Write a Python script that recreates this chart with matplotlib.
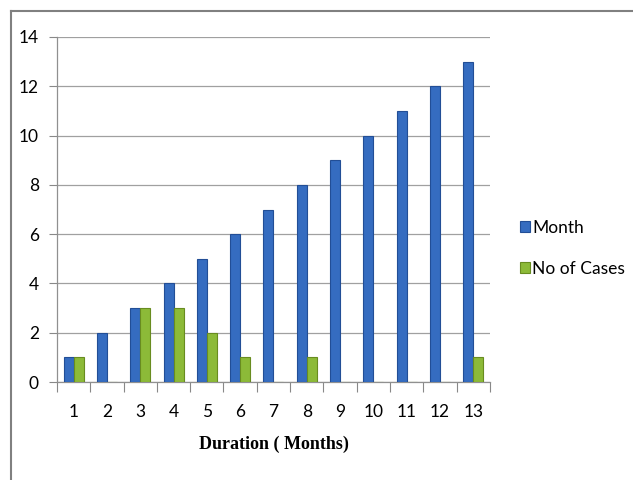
import numpy as np
import matplotlib
matplotlib.use('Agg')
import matplotlib.pyplot as plt
from matplotlib.lines import Line2D

# data
months = [1, 2, 3, 4, 5, 6, 7, 8, 9, 10, 11, 12, 13]
month_vals = [1, 2, 3, 4, 5, 6, 7, 8, 9, 10, 11, 12, 13]
cases_vals = [1, 0, 3, 3, 2, 1, 0, 1, 0, 0, 0, 0, 1]
y_ticks = [0, 2, 4, 6, 8, 10, 12, 14]

fig = plt.figure(figsize=(6.33, 4.8), dpi=100)
ax = fig.add_axes([0.090, 0.204, 0.684, 0.719])

x = np.array(months)
w = 0.3
ax.bar(x - w, month_vals, w, align='edge', color='#356cc0',
       edgecolor='#224e96', linewidth=0.8, label='Month', zorder=3)
ax.bar(x, cases_vals, w, align='edge', color='#8cba38',
       edgecolor='#688c20', linewidth=0.8, label='No of Cases', zorder=3)

ax.set_xlim(0.5, 13.5)
ax.set_ylim(0, 14)
ax.set_yticks(y_ticks)
ax.set_xticks(months)
ax.set_xticks(np.arange(0.5, 14, 1), minor=True)
ax.tick_params(axis='x', which='major', length=0, pad=16)
ax.tick_params(axis='x', which='minor', length=7, color='#888888', width=0.8)
ax.tick_params(axis='y', length=6, color='#888888', width=0.8, pad=7)
for lab in ax.get_xticklabels() + ax.get_yticklabels():
    lab.set_fontfamily('Lato')
    lab.set_fontsize(12.5)

ax.grid(axis='y', color='#a0a0a0', linewidth=0.9, zorder=0)
for s in ['top', 'right']:
    ax.spines[s].set_visible(False)
for s in ['left', 'bottom']:
    ax.spines[s].set_color('#909090')
    ax.spines[s].set_linewidth(0.9)

ax.set_xlabel('Duration ( Months)', fontfamily='Liberation Serif',
              fontweight='bold', fontsize=13, labelpad=11)

leg = fig.legend(loc='center left', bbox_to_anchor=(0.808, 0.483),
                 frameon=False, handlelength=0.55, handleheight=0.55,
                 handletextpad=0.15, labelspacing=1.45, borderpad=0,
                 prop={'family': 'Lato', 'size': 12.5})

# outer chart border (left and top visible)
fig.add_artist(Line2D([0.018, 0.018], [0.0, 0.977], transform=fig.transFigure,
                      color='#808080', linewidth=1.5))
fig.add_artist(Line2D([0.018, 1.0], [0.977, 0.977], transform=fig.transFigure,
                      color='#808080', linewidth=1.5))

fig.savefig('out.png', dpi=100)
